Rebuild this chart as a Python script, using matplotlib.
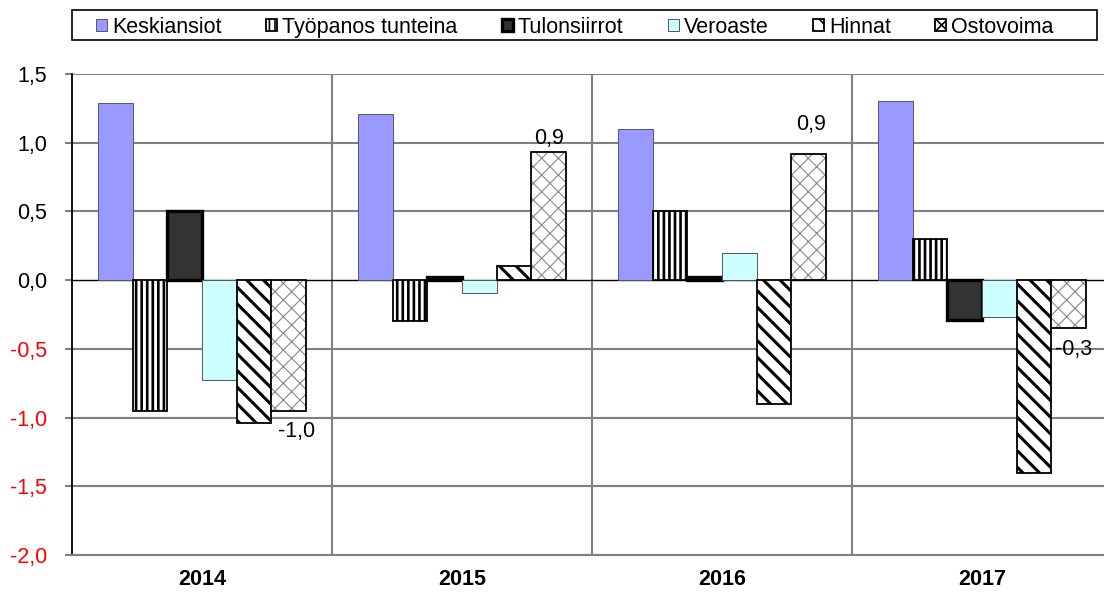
import matplotlib
matplotlib.use('Agg')
import matplotlib.pyplot as plt
from matplotlib.patches import Patch, Rectangle
import numpy as np

plt.rcParams['font.family'] = ['Liberation Sans', 'DejaVu Sans']

# data
years = ['2014', '2015', '2016', '2017']
series = ['Keskiansiot', 'Työpanos tunteina', 'Tulonsiirrot', 'Veroaste', 'Hinnat', 'Ostovoima']
keskiansiot = [1.29, 1.21, 1.10, 1.30]
tyopanos = [-0.95, -0.30, 0.50, 0.30]
tulonsiirrot = [0.50, 0.02, 0.02, -0.29]
veroaste = [-0.73, -0.09, 0.20, -0.27]
hinnat = [-1.04, 0.10, -0.90, -1.40]
ostovoima = [-0.95, 0.93, 0.92, -0.35]
ostovoima_labels = ['-1,0', '0,9', '0,9', '-0,3']
yticks = [-2.0, -1.5, -1.0, -0.5, 0.0, 0.5, 1.0, 1.5]
ytick_labels = ['-2,0', '-1,5', '-1,0', '-0,5', '0,0', '0,5', '1,0', '1,5']

values = [keskiansiot, tyopanos, tulonsiirrot, veroaste, hinnat, ostovoima]
FS = 15.5

# tyylit
styles = [
    dict(facecolor='#9999ff', edgecolor='#555577', linewidth=0.7, hatch=None, hlw=1),
    dict(facecolor='white', edgecolor='black', linewidth=1.3, hatch='|||', hlw=1.9),
    dict(facecolor='#333333', edgecolor='black', linewidth=2.4, hatch=None, hlw=1),
    dict(facecolor='#ccffff', edgecolor='#555555', linewidth=0.7, hatch=None, hlw=1),
    dict(facecolor='white', edgecolor='black', linewidth=1.3, hatch='\\\\', hlw=2.2),
    dict(facecolor='white', edgecolor='#888888', linewidth=0, hatch='xx', hlw=0.8),
]

fig = plt.figure(figsize=(11.04, 5.92), dpi=100)
ax = fig.add_axes([72 / 1104, 1 - 555 / 592, 1040 / 1104, 481 / 592])

x = np.arange(len(years))
w = 0.1335
offsets = (np.arange(6) - 2.5) * w

# ruudukko
for yv in yticks:
    if yv == 0:
        continue
    ax.axhline(yv, color='#808080', lw=1.5, zorder=0)
for xv in [0.5, 1.5, 2.5]:
    ax.axvline(xv, color='#808080', lw=1.5, zorder=0)

for i in range(6):
    st = styles[i]
    bars = ax.bar(x + offsets[i], values[i], w, facecolor=st['facecolor'],
                  edgecolor=st['edgecolor'], linewidth=st['linewidth'],
                  hatch=st['hatch'], zorder=2)
    if st['hatch']:
        plt.rcParams['hatch.linewidth'] = st['hlw']
        for b in bars:
            try:
                b.set_hatch_linewidth(st['hlw'])
            except AttributeError:
                pass

# Ostovoima: musta reuna erikseen
ost_outline = ax.bar(x + offsets[5], ostovoima, w, facecolor='none',
                     edgecolor='black', linewidth=1.3, zorder=3)

ax.axhline(0, color='black', lw=1, zorder=1)

# arvot
label_offsets = [(8, -21), (0, 14), (2, 29), (5, -21)]
for j, b in enumerate(ost_outline):
    yv = ostovoima[j]
    ax.annotate(ostovoima_labels[j], (b.get_x() + b.get_width() / 2, yv),
                xytext=label_offsets[j], textcoords='offset pixels',
                ha='center', va='center', fontsize=FS)

ax.set_xlim(-0.5, 3.5)
ax.set_ylim(-2.0, 1.5)
ax.set_yticks(yticks)
ax.set_yticklabels(ytick_labels, fontsize=FS)
for lab, yv in zip(ax.get_yticklabels(), yticks):
    lab.set_color('red' if yv < 0 else 'black')
ax.tick_params(axis='y', length=5, width=1.5, color='#808080', pad=13)
ax.set_xticks(x)
ax.set_xticklabels(years, fontsize=FS, fontweight='bold')
ax.tick_params(axis='x', length=0, pad=10)

for s in ['top', 'right']:
    ax.spines[s].set_visible(False)
ax.spines['left'].set_color('black')
ax.spines['left'].set_linewidth(1.3)
ax.spines['bottom'].set_color('#808080')
ax.spines['bottom'].set_linewidth(1.5)

# selite
plt.rcParams['hatch.linewidth'] = 1.2
handles = []
for i in range(6):
    st = styles[i]
    if i == 5:
        h = Patch(facecolor='white', edgecolor='black', hatch='xx', linewidth=1.3)
    else:
        h = Patch(facecolor=st['facecolor'], edgecolor=st['edgecolor'],
                  linewidth=st['linewidth'], hatch=st['hatch'])
    handles.append(h)
fig.patches.append(Rectangle((72 / 1104, 1 - 40 / 592), 1025 / 1104, 30 / 592,
                             transform=fig.transFigure, facecolor='white',
                             edgecolor='black', linewidth=1.2, zorder=0))
leg = fig.legend(handles, series, loc='lower left', ncol=6, mode='expand',
                 bbox_to_anchor=(90 / 1104, 1 - 44 / 592, 970 / 1104, 31 / 592),
                 fontsize=FS, frameon=False,
                 handlelength=0.5, handleheight=0.5, handletextpad=0.25,
                 borderpad=0.3, borderaxespad=0, columnspacing=1.5)

fig.savefig('out.png', dpi=100)
